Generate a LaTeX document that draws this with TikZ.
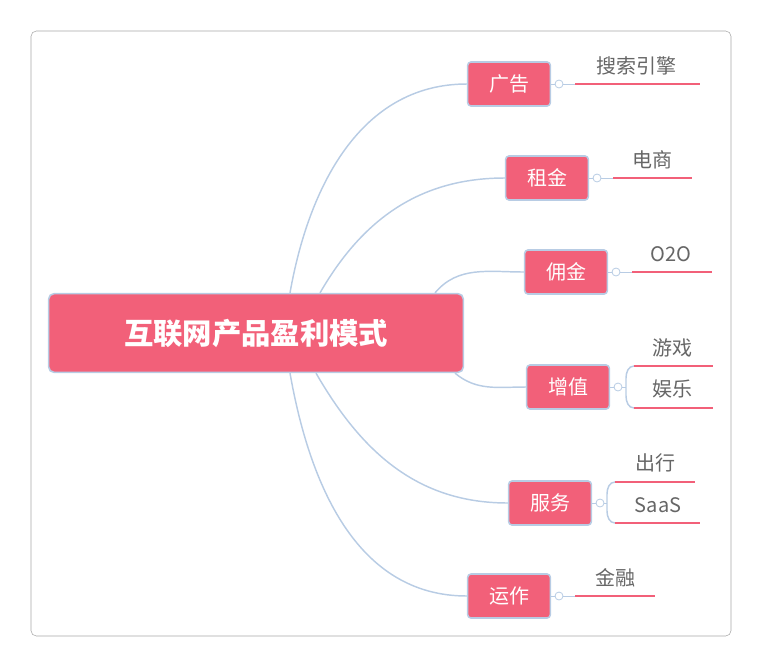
\documentclass[tikz,border=0pt]{standalone}
\usepackage{fontspec}
\setmainfont{Noto Sans CJK SC}
\definecolor{pk}{HTML}{F26079}
\definecolor{bl}{HTML}{B8CCE4}
\definecolor{tx}{HTML}{666666}
\begin{document}
\begin{tikzpicture}[x=0.75pt,y=-0.75pt,
  box/.style={draw=bl,line width=1.2pt,fill=pk,rounded corners=2.5pt,text=white,font=\fontsize{15}{15}\selectfont,minimum width=62pt,minimum height=33pt,inner sep=0pt},
  con/.style={draw=bl,line width=1.1pt},
  dot/.style={circle,draw=bl,fill=white,line width=0.6pt,minimum size=6pt,inner sep=0pt},
  leaf/.style={text=tx,font=\fontsize{15}{15}\selectfont,inner sep=0pt},
  ul/.style={draw=pk,line width=1.6pt}]
\useasboundingbox (0,0) rectangle (762,667);
\draw[draw=gray!70,rounded corners=4pt] (31,31) rectangle (731,636);
\node[box,minimum width=311pt,minimum height=59pt,rounded corners=4pt,font=\fontsize{22}{22}\selectfont\bfseries] (root) at (256,333) {互联网产品盈利模式};
\node[box] (a) at (509,84) {广告};
\node[box] (b) at (547,178) {租金};
\node[box] (c) at (566,272) {佣金};
\node[box] (d) at (568,387) {增值};
\node[box] (e) at (550,503) {服务};
\node[box] (f) at (509,596) {运作};
\draw[con] (root.north -| 290,0) to[out=80,in=180] (a.west);
\draw[con] (root.north -| 320,0) to[out=60,in=180] (b.west);
\draw[con] (root.north -| 435,0) to[out=50,in=180] (c.west);
\draw[con] (root.south -| 455,0) to[out=-40,in=180] (d.west);
\draw[con] (root.south -| 316,0) to[out=-60,in=180] (e.west);
\draw[con] (root.south -| 290,0) to[out=-80,in=180] (f.west);
% dots
\node[dot] (da) at (559,84) {};
\node[dot] (db) at (597,178) {};
\node[dot] (dc) at (616,272) {};
\node[dot] (dd) at (618,387) {};
\node[dot] (de) at (600,503) {};
\node[dot] (df) at (559,596) {};
\draw[con,line width=0.6pt] (a.east) -- (da.west);
\draw[con,line width=0.6pt] (b.east) -- (db.west);
\draw[con,line width=0.6pt] (c.east) -- (dc.west);
\draw[con,line width=0.6pt] (d.east) -- (dd.west);
\draw[con,line width=0.6pt] (e.east) -- (de.west);
\draw[con,line width=0.6pt] (f.east) -- (df.west);
% leaves
\coordinate (la1) at (575,84); \coordinate (la2) at (700,84);
\draw[con,line width=0.6pt] (da.east) -- (la1); \draw[ul] (la1) -- (la2);
\node[leaf] (ta) at (636,66) {搜索引擎};
\coordinate (lb1) at (613,178); \coordinate (lb2) at (692,178);
\draw[con,line width=0.6pt] (db.east) -- (lb1); \draw[ul] (lb1) -- (lb2);
\node[leaf] (tb) at (652,160) {电商};
\coordinate (lc1) at (632,272); \coordinate (lc2) at (712,272);
\draw[con,line width=0.6pt] (dc.east) -- (lc1); \draw[ul] (lc1) -- (lc2);
\node[leaf] (tc) at (671,254) {O2O};
\coordinate (lf1) at (575,596); \coordinate (lf2) at (655,596);
\draw[con,line width=0.6pt] (df.east) -- (lf1); \draw[ul] (lf1) -- (lf2);
\node[leaf] (tf) at (615,578) {金融};
% 增值 bracket
\coordinate (d1) at (634,366); \coordinate (d2) at (634,408);
\draw[con] (d1) to[out=180,in=90] (626,378) -- (626,396) to[out=-90,in=180] (d2);
\draw[con,line width=0.6pt] (dd.east) -- (626,387);
\draw[ul] (d1) -- (713,366); \draw[ul] (d2) -- (713,408);
\node[leaf] (td1) at (672,348) {游戏};
\node[leaf] (td2) at (672,389) {娱乐};
% 服务 bracket
\coordinate (e1) at (615,482); \coordinate (e2) at (615,523);
\draw[con] (e1) to[out=180,in=90] (607,494) -- (607,511) to[out=-90,in=180] (e2);
\draw[con,line width=0.6pt] (de.east) -- (607,503);
\draw[ul] (e1) -- (695,482); \draw[ul] (e2) -- (700,523);
\node[leaf] (te1) at (655,463) {出行};
\node[leaf] (te2) at (658,505) {SaaS};
\end{tikzpicture}
\end{document}
